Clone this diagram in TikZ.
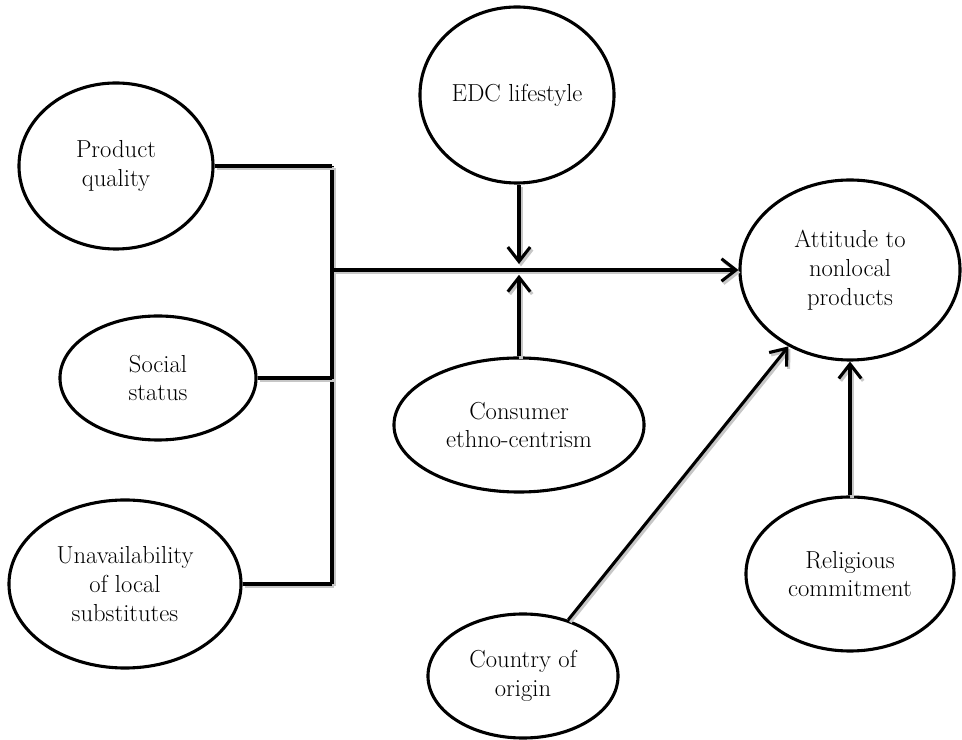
\documentclass[tikz,border=0pt]{standalone}
\usetikzlibrary{shapes.geometric,arrows.meta}

\begin{document}
\begin{tikzpicture}[x=0.025cm, y=-0.025cm,
    factor/.style={ellipse, draw, line width=2.2pt, inner sep=0pt, align=center,
      font=\fontsize{17.5}{20.5}\selectfont},
    link/.style={line width=2.2pt,
      preaction={draw=black!22, line width=2.2pt, transform canvas={shift={(0.05cm,-0.06cm)}}}},
    arr/.style={link, -{Straight Barb[length=3.6mm, width=5.6mm]}}
  ]
  \useasboundingbox (0,0) rectangle (962,740);

  % antecedents on the left
  \node[factor, minimum width=4.85cm, minimum height=4.15cm] (pq) at (116,166) {Product\\quality};
  \node[factor, minimum width=4.9cm, minimum height=3.1cm] (ss) at (158,378) {Social\\status};
  \node[factor, minimum width=5.8cm, minimum height=4.2cm] (us) at (125,584) {Unavailability\\of local\\substitutes};

  % moderators
  \node[factor, minimum width=4.85cm, minimum height=4.4cm] (edc) at (517,95) {EDC lifestyle};
  \node[factor, minimum width=6.25cm, minimum height=3.35cm] (ce) at (519,425) {Consumer\\ethno-centrism};

  % outcome and direct effects
  \node[factor, minimum width=5.5cm, minimum height=4.5cm] (att) at (850,270) {Attitude to\\nonlocal\\products};
  \node[factor, minimum width=5.2cm, minimum height=3.85cm] (rc) at (850,574) {Religious\\commitment};
  \node[factor, minimum width=4.75cm, minimum height=3.1cm] (co) at (523,676) {Country of\\origin};

  \coordinate (bus) at (332,270);
  \coordinate (jn) at (519,270);

  \draw[link] (pq.east -| bus) -- (us.east -| bus);
  \draw[link] (pq.east) -- (pq.east -| bus);
  \draw[link] (ss.east) -- (ss.east -| bus);
  \draw[link] (us.east) -- (us.east -| bus);
  \draw[arr] (bus) -- (att.west);

  \draw[arr, shorten >=0.15cm] (jn |- edc.south) -- (jn);
  \draw[arr, shorten >=0.12cm] (ce) -- (jn);
  \draw[arr] (co) -- (att);
  \draw[arr] (rc) -- (att);
\end{tikzpicture}
\end{document}
